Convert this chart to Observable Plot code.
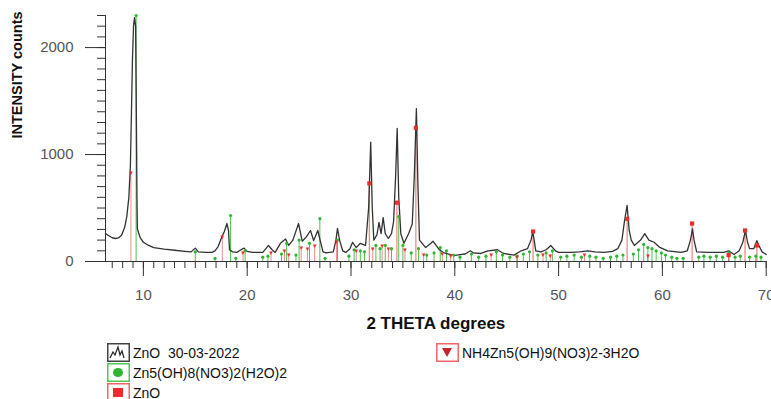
<!DOCTYPE html>
<html>
<head>
<meta charset="utf-8">
<script src="https://cdn.jsdelivr.net/npm/d3@7"></script>
<script src="https://cdn.jsdelivr.net/npm/@observablehq/plot@0.6"></script>
<style>
  html, body { margin: 0; padding: 0; background: #fff; }
  #wrap { position: relative; width: 771px; height: 399px; overflow: hidden; font-family: "Liberation Sans", Arial, sans-serif; }
  .leg { position: absolute; display: flex; align-items: center; font-size: 14px; color: #111; white-space: pre; }
  .leg svg { margin-right: 3px; }
</style>
</head>
<body>
<div id="wrap"><div id="chart"></div></div>
<script>
// Measured XRD trace (2θ, counts)
const traceX = [6.35,6.6,7.0,7.3,7.6,7.9,8.2,8.4,8.6,8.75,8.85,8.95,9.05,9.15,9.25,9.32,9.38,9.42,9.5,9.7,10.0,10.5,11.0,12.0,13.0,14.0,14.6,15.0,15.3,16.0,16.6,16.9,17.2,17.5,17.8,18.05,18.2,18.3,18.6,19.0,19.5,19.7,20.0,20.5,21.5,21.8,22.05,22.4,22.7,23.2,23.7,24.0,24.4,24.95,25.3,25.7,26.1,26.4,26.8,27.3,27.6,28.3,28.55,28.7,28.9,29.2,29.5,29.9,30.15,30.5,30.9,31.4,31.7,31.9,32.05,32.2,32.5,32.7,32.9,33.1,33.3,33.6,33.9,34.1,34.3,34.45,34.6,34.8,35.1,35.55,35.9,36.1,36.3,36.45,36.6,37.2,37.7,37.9,38.2,38.5,39.0,39.9,40.5,41.0,41.5,41.8,42.5,43.2,44.1,44.7,45.7,46.4,47.0,47.35,47.5,47.65,47.8,48.3,48.8,49.25,49.7,50.0,51.2,52.0,52.8,53.5,54.4,55.2,55.7,56.1,56.35,56.6,56.8,57.0,57.3,57.9,58.3,58.7,59.2,59.7,60.5,61.8,62.4,62.7,62.9,63.05,63.3,64.4,65.9,66.4,66.9,67.4,67.75,68.0,68.2,68.4,68.8,69.1,69.3,69.6,70.0];
const traceY = [262,245,222,215,220,245,320,420,600,900,1400,1900,2200,2280,2200,1400,600,310,280,220,180,150,130,115,105,95,90,125,90,85,85,100,140,215,280,355,290,110,90,85,115,125,95,85,85,120,150,110,85,170,210,150,200,355,190,230,290,195,290,90,80,90,200,310,200,100,85,120,180,130,170,150,500,1115,500,200,250,365,260,410,260,215,260,370,800,1245,600,260,170,260,350,800,1430,700,200,130,170,190,150,110,80,55,65,70,100,80,75,100,110,75,60,100,120,200,280,200,100,90,110,150,100,85,85,90,100,90,85,95,120,200,380,525,290,200,150,200,260,200,180,135,100,85,100,200,305,200,90,85,85,100,65,100,180,290,180,120,120,195,150,90,65];

// Reference pattern: Zn5(OH)8(NO3)2(H2O)2 (green)
const hznX = [9.3,15.0,16.9,18.4,18.9,19.8,21.5,22.0,23.3,23.8,24.7,25.0,26.0,27.0,27.5,28.7,29.8,30.3,30.9,31.3,32.4,32.8,33.3,33.9,34.6,35.0,35.8,36.5,37.3,38.0,38.6,39.2,39.9,40.5,41.6,42.3,43.0,44.0,44.6,45.3,46.0,46.6,47.2,48.0,48.8,49.4,50.2,50.8,51.5,52.2,53.0,53.6,54.3,55.0,55.6,56.2,57.2,57.7,58.2,58.6,59.0,59.4,59.9,60.3,60.9,61.4,62.0,63.5,64.0,64.6,65.2,65.8,66.4,67.0,67.5,68.4,69.0,69.5];
const hznY = [2300,90,30,430,30,100,40,50,70,170,60,200,170,400,30,200,50,110,100,90,150,120,150,120,420,150,80,120,60,80,130,100,60,40,70,40,50,90,60,40,50,70,90,60,80,100,40,50,60,40,50,40,30,40,50,60,70,110,160,130,120,100,80,60,40,30,30,40,50,40,50,40,80,40,50,40,50,40];

// Reference pattern: ZnO (red squares)
const znoX = [31.77,34.42,36.25,47.54,56.6,62.86,66.38,67.96,69.1];
const znoY = [730,550,1250,280,400,355,60,290,150];

// Reference pattern: NH4Zn5(OH)9(NO3)2-3H2O (red triangles)
const nhX = [8.8,17.6,19.6,22.3,23.6,24.0,25.2,25.8,26.5,28.6,30.5,32.1,33.0,33.6,35.2,37.0,38.8,39.6,43.5,46.0,48.5,49.2,52.5,58.6];
const nhY = [830,225,80,80,100,60,130,120,140,180,100,120,140,120,110,60,70,50,60,40,60,50,60,50];

const xTickLabels = [10,20,30,40,50,60,70];
const xMinorTicks = d3.range(7, 71);
const yTickLabels = [0,1000,2000];
const yMinorTicks = d3.range(0, 2301, 100);

const trace = traceX.map((x,i) => ({x, y: traceY[i]}));
const hzn = hznX.map((x,i) => ({x, y: hznY[i]}));
const zno = znoX.map((x,i) => ({x, y: znoY[i]}));
const nh = nhX.map((x,i) => ({x, y: nhY[i]}));

const GREEN = "#2fb62f", RED = "#e62e2e", INK = "#333";
const x0 = 6.35;

const chart = Plot.plot({
  width: 771, height: 338,
  marginLeft: 105, marginRight: 5.3, marginTop: 15, marginBottom: 77,
  x: {domain: [x0, 70]},
  y: {domain: [0, 2300]},
  style: {fontFamily: "'Liberation Sans', Arial, sans-serif", background: "#fff", overflow: "visible"},
  marks: [
    Plot.ruleX(hzn, {x: "x", y1: 0, y2: "y", stroke: GREEN, strokeWidth: 1, strokeOpacity: 0.85}),
    Plot.ruleX(nh, {x: "x", y1: 0, y2: "y", stroke: RED, strokeWidth: 1, strokeOpacity: 0.55}),
    Plot.ruleX(zno, {x: "x", y1: 0, y2: "y", stroke: RED, strokeWidth: 1.2, strokeOpacity: 0.6}),
    Plot.line(trace, {x: "x", y: "y", stroke: INK, strokeWidth: 1.3}),
    Plot.dot(hzn, {x: "x", y: "y", r: 1.6, fill: GREEN, symbol: "circle"}),
    Plot.dot(zno, {x: "x", y: "y", r: 2.4, fill: RED, symbol: "square"}),
    Plot.text(nh, {x: "x", y: "y", text: () => "▼", fill: RED, fontSize: 6}),
    Plot.ruleX([x0], {stroke: INK}),
    Plot.ruleY([0], {stroke: INK}),
    Plot.axisX({ticks: xMinorTicks, tickSize: 7, tickFormat: () => "", stroke: INK, label: null}),
    Plot.axisX({ticks: xTickLabels, tickSize: 15, tickFormat: () => "", stroke: INK, label: null}),
    Plot.axisX({ticks: xTickLabels, tickSize: 0, tickPadding: 28, fontSize: 15, color: "#555", tickFormat: d => String(d), label: null}),
    Plot.axisY({ticks: yMinorTicks, tickSize: 8, tickFormat: () => "", stroke: INK, label: null}),
    Plot.axisY({ticks: yTickLabels, tickSize: 20, tickFormat: () => "", stroke: INK, label: null}),
    Plot.axisY({ticks: yTickLabels, tickSize: 0, tickPadding: 32, fontSize: 15, color: "#555", tickFormat: d => String(d), label: null}),
    Plot.text(["2 THETA degrees"], {frameAnchor: "bottom", dy: 67, fontSize: 17, fontWeight: "bold", fill: "#111"}),
    Plot.text(["INTENSITY counts"], {frameAnchor: "left", dx: -88, rotate: -90, fontSize: 14.5, fontWeight: "bold", fill: "#111"})
  ]
});
document.getElementById("chart").appendChild(chart);

// Legend
const legendItems = [
  {label: "ZnO  30-03-2022", left: 107, top: 343, icon: "trace"},
  {label: "Zn5(OH)8(NO3)2(H2O)2", left: 107, top: 363, icon: "circle"},
  {label: "ZnO", left: 107, top: 383, icon: "square"},
  {label: "NH4Zn5(OH)9(NO3)2-3H2O", left: 436, top: 343, icon: "triangle"}
];
const wrap = document.getElementById("wrap");
for (const it of legendItems) {
  const d = document.createElement("div");
  d.className = "leg";
  d.style.left = it.left + "px";
  d.style.top = it.top + "px";
  let inner, border;
  if (it.icon === "trace") { border = "#444"; inner = `<polyline points="3,15 6,9 8,12 11,4 13,12 15,8 17,15" fill="none" stroke="#222" stroke-width="1.2"/>`; }
  if (it.icon === "circle") { border = "#55c455"; inner = `<ellipse cx="11" cy="9.5" rx="5" ry="4.5" fill="${GREEN}"/>`; }
  if (it.icon === "square") { border = "#ee6666"; inner = `<rect x="6" y="5" width="10" height="9" fill="${RED}"/>`; }
  if (it.icon === "triangle") { border = "#ee6666"; inner = `<path d="M6,5 L16,5 L11,14 Z" fill="#c0262b"/>`; }
  d.innerHTML = `<svg width="23" height="19"><rect x="0.75" y="0.75" width="21.5" height="17.5" fill="#fff" stroke="${border}" stroke-width="1.5"/>${inner}</svg><span>${it.label}</span>`;
  wrap.appendChild(d);
}
</script>
</body>
</html>
